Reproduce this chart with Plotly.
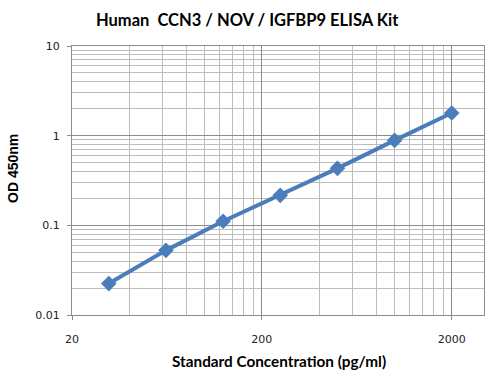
import plotly.graph_objects as go

concentration = [31.25, 62.5, 125, 250, 500, 1000, 2000]
od450 = [0.0224, 0.0526, 0.111, 0.216, 0.432, 0.886, 1.79]

x_ticks = [20, 200, 2000]
x_tick_labels = ["20", "200", "2000"]
y_ticks = [0.01, 0.1, 1, 10]
y_tick_labels = ["0.01", "0.1", "1", "10"]

x_minor = [m * 20 * d for d in (1, 10, 100) for m in range(2, 10)]
y_minor = [m * d for d in (0.01, 0.1, 1) for m in range(2, 10)]

color = "#4A7EBB"

fig = go.Figure()
fig.add_trace(go.Scatter(
    x=concentration, y=od450, mode="lines+markers",
    line=dict(color=color, width=4),
    marker=dict(symbol="diamond", size=12, color=color),
    showlegend=False,
))

axis_font = dict(family="DejaVu Sans", size=11, color="#222222")

fig.update_xaxes(
    type="log", range=[1.30103, 3.471],
    tickvals=x_ticks, ticktext=x_tick_labels,
    showgrid=True, gridcolor="#8c8c8c", gridwidth=1,
    minor=dict(tickvals=x_minor, showgrid=True, gridcolor="#bdbdbd", gridwidth=1, ticks=""),
    showline=True, linecolor="#8c8c8c", linewidth=1, mirror=True,
    ticks="outside", ticklen=4, tickcolor="#8c8c8c", ticklabelstandoff=10,
    tickfont=axis_font, zeroline=False,
)
fig.update_yaxes(
    type="log", range=[-2, 1],
    tickvals=y_ticks, ticktext=y_tick_labels,
    showgrid=True, gridcolor="#8c8c8c", gridwidth=1,
    minor=dict(tickvals=y_minor, showgrid=True, gridcolor="#bdbdbd", gridwidth=1, ticks=""),
    showline=True, linecolor="#8c8c8c", linewidth=1, mirror=True,
    ticks="outside", ticklen=4, tickcolor="#8c8c8c", ticklabelstandoff=5,
    tickfont=axis_font, zeroline=False,
)

W, H = 497, 372
pl, pr, pt, pb = 72, 13, 46, 57
pw, ph = W - pl - pr, H - pt - pb

fig.update_layout(
    width=W, height=H,
    margin=dict(l=pl, r=pr, t=pt, b=pb),
    paper_bgcolor="white", plot_bgcolor="white",
)


def px(x):
    return (x - pl) / pw


def py(y):
    return (H - pb - y) / ph


common = dict(xref="paper", yref="paper", showarrow=False, xanchor="center", yanchor="middle")
fig.add_annotation(text="<b>Human  CCN3 / NOV / IGFBP9 ELISA Kit</b>",
                   x=px(247), y=py(20), font=dict(family="Lato", size=16.5, color="black"), **common)
fig.add_annotation(text="<b>Standard Concentration (pg/ml)</b>",
                   x=px(279), y=py(361), font=dict(family="Lato", size=15.3, color="black"), **common)
fig.add_annotation(text="<b>OD 450nm</b>", textangle=-90,
                   x=px(13), y=py(169), font=dict(family="Liberation Sans", size=14, color="black"), **common)

fig.write_html("out.html",
               config={"displayModeBar": False},
               post_script="document.body.style.margin='0';document.body.style.overflow='hidden';")
